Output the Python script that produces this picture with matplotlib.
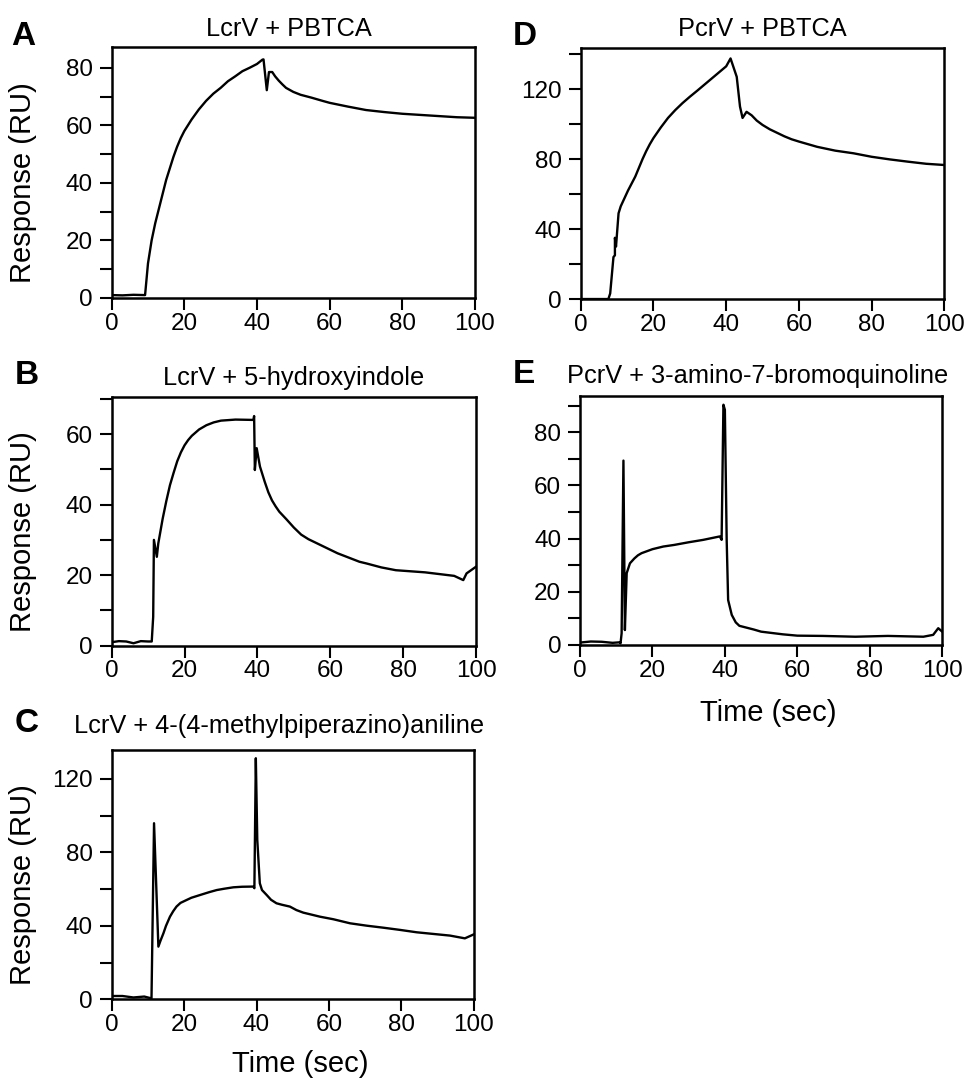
import matplotlib
matplotlib.use("Agg")
import matplotlib.pyplot as plt
from matplotlib.ticker import MultipleLocator

plt.rcParams["font.family"] = ["Liberation Sans", "DejaVu Sans"]

# ---- data (time in sec, response in RU) ----
a_time = [0, 3, 6, 9, 9.2, 10, 11, 12, 13, 14, 15, 16, 17, 18, 19, 20, 22, 24, 26, 28, 30,
          32, 34, 36, 38, 40, 41.5, 41.8, 42.7, 43.3, 44.2, 45, 46, 47, 48, 50, 52, 55, 58,
          60, 65, 70, 75, 80, 85, 90, 95, 100]
a_resp = [1.0, 0.9, 1.1, 1.0, 1.0, 12, 20, 26, 31, 36, 41, 45, 49, 52.5, 55.5, 58, 62, 65.5,
          68.5, 71, 73, 75.3, 77, 78.8, 80, 81.3, 82.8, 82.9, 72.2, 78.5, 78.5, 77, 75.5, 74.2,
          73, 71.6, 70.6, 69.6, 68.5, 67.8, 66.5, 65.3, 64.6, 64, 63.6, 63.2, 62.8, 62.6]

b_time = [0, 2, 4, 6, 8, 10, 11, 11.4, 11.6, 12.4, 12.8, 14, 15, 16, 17, 18, 19, 20, 21, 22,
          24, 26, 28, 30, 34, 38.9, 39.1, 39.3, 39.8, 40.7, 42, 43, 44, 45, 46, 48, 50, 52,
          54, 56, 58, 60, 62, 65, 68, 70, 74, 78, 82, 86, 90, 94, 96.5, 97.4, 100]
b_resp = [1.0, 1.3, 1.2, 0.7, 1.3, 1.2, 1.2, 8.2, 30, 25.2, 29, 36, 41, 45.5, 49, 52.3, 54.8,
          56.8, 58.3, 59.5, 61.3, 62.5, 63.3, 63.8, 64.1, 64, 65.1, 49.8, 56, 50.8, 46.5, 43.5,
          41.2, 39.5, 38, 35.8, 33.5, 31.5, 30.2, 29.2, 28.2, 27.2, 26.2, 25, 23.8, 23.3,
          22.2, 21.4, 21.1, 20.8, 20.3, 19.8, 18.6, 20.5, 22.4]

c_time = [0, 3, 6, 9, 11, 11.7, 12.9, 13.5, 14.3, 15, 16.1, 17, 17.9, 19, 20.7, 22, 24.4, 27,
          29, 31, 33.6, 36, 39.1, 39.4, 39.8, 40.2, 40.9, 41.5, 42.8, 44, 45.5, 47, 49.2, 51,
          52.9, 55, 57.5, 61.2, 65.8, 70.4, 75, 79.6, 84.2, 88.8, 93.4, 97.5, 100]
c_resp = [1.8, 1.8, 1.0, 1.5, 0.5, 95.9, 28.7, 32, 36, 40, 45, 48, 50.5, 52.5, 54.1, 55.3,
          56.8, 58.4, 59.5, 60.2, 61, 61.3, 61.4, 60.5, 131.3, 86.8, 63.2, 59.5, 56.8, 54.2,
          52.3, 51.5, 50.5, 48.6, 47.2, 46.2, 45, 43.6, 41.4, 40.1, 39, 37.8, 36.5, 35.6,
          34.7, 33.2, 35.4]

d_time = [0, 4, 7.6, 8.1, 9.0, 9.4, 9.4, 9.7, 10.4, 11, 12, 13, 14, 15, 16, 17, 18, 19, 20,
          22, 24, 26, 28, 30, 32, 34, 36, 38, 40, 41.2, 42.9, 43.8, 44.5, 45.6, 47, 48.4, 50,
          52, 54, 56, 58, 60, 65, 70, 75, 80, 85, 90, 95, 100]
d_resp = [0, 0, 0, 3.2, 24, 25, 35, 30, 49, 53, 57.5, 62, 66, 70, 75, 80, 84.5, 88.5, 92,
          98, 103.5, 108, 112, 115.6, 119, 122.5, 126, 129.5, 133, 137.5, 127, 110, 103.5,
          107, 105, 102, 99.5, 97, 95, 93, 91.3, 90, 87, 84.8, 83.3, 81.3, 79.8, 78.5, 77.3,
          76.6]

e_time = [0, 3, 6, 9, 11, 11.2, 11.5, 12, 12.4, 12.9, 13.8, 15, 16, 17, 18.4, 20, 23, 26,
          30, 34, 38.6, 39.1, 39.6, 40, 40.5, 40.9, 41.9, 43, 44, 46, 48, 50, 53, 56, 60, 67,
          76, 85, 94.8, 97.5, 98.9, 100]
e_resp = [0.9, 1.3, 1.2, 0.8, 1.0, 0.6, 4.4, 69.3, 5.6, 27, 30.7, 32.5, 33.7, 34.5, 35.2, 36,
          37, 37.6, 38.6, 39.5, 40.8, 39.5, 90.3, 88.4, 39.5, 16.9, 11.3, 8.5, 7.2, 6.5, 5.8,
          5.0, 4.5, 4.0, 3.5, 3.4, 3.1, 3.4, 3.1, 3.8, 6.3, 5]

titles = ["LcrV + PBTCA", "LcrV + 5-hydroxyindole", "LcrV + 4-(4-methylpiperazino)aniline",
          "PcrV + PBTCA", "PcrV + 3-amino-7-bromoquinoline"]
letters = ["A", "B", "C", "D", "E"]
y_max = [87.2, 70.4, 135.8, 143.3, 93.6]
y_major = [20, 20, 40, 40, 20]

# axes boxes in figure fractions [left, bottom, width, height]
boxes = [[0.1157, 0.7236, 0.3765, 0.2328],
         [0.1157, 0.4010, 0.3776, 0.2304],
         [0.1157, 0.0730, 0.3754, 0.2313],
         [0.6018, 0.7226, 0.3768, 0.2326],
         [0.6010, 0.4017, 0.3754, 0.2310]]
title_x = [0.488, 0.5, 0.462, 0.5, 0.491]
title_y = [1.044, 1.05, 1.068, 1.049, 1.052]
letter_pos = [(0.012, 0.958), (0.015, 0.644), (0.015, 0.321), (0.531, 0.958), (0.531, 0.645)]

traces = [(a_time, a_resp), (b_time, b_resp), (c_time, c_resp),
          (d_time, d_resp), (e_time, e_resp)]

fig = plt.figure(figsize=(9.65, 10.78), dpi=100)

for i in range(5):
    ax = fig.add_axes(boxes[i])
    t, r = traces[i]
    ax.plot(t, r, color="black", lw=1.7)
    ax.set_xlim(0, 100)
    ax.set_ylim(0, y_max[i])
    ax.xaxis.set_major_locator(MultipleLocator(20))
    ax.yaxis.set_major_locator(MultipleLocator(y_major[i]))
    ax.yaxis.set_minor_locator(MultipleLocator(y_major[i] / 2))
    ax.tick_params(axis="both", which="both", direction="out", length=8.5, width=1.5,
                   labelsize=17.5, top=False, right=False)
    ax.tick_params(axis="y", pad=5)
    ax.tick_params(axis="x", pad=2)
    ax.tick_params(axis="x", which="minor", bottom=False)
    for s in ax.spines.values():
        s.set_linewidth(1.8)
    ax.text(title_x[i], title_y[i], titles[i], transform=ax.transAxes,
            ha="center", va="baseline", fontsize=18.3)
    fig.text(letter_pos[i][0], letter_pos[i][1], letters[i], fontsize=24,
             fontweight="bold", va="baseline", ha="left")
    if i < 3:
        ax.set_ylabel("Response (RU)", fontsize=21)
        ax.yaxis.set_label_coords(-0.205, 0.46)
    if i in (2, 4):
        ax.set_xlabel("Time (sec)", fontsize=21)
        ax.xaxis.set_label_coords(0.52, -0.205 if i == 2 else -0.215)

fig.savefig("out.png", dpi=100)
